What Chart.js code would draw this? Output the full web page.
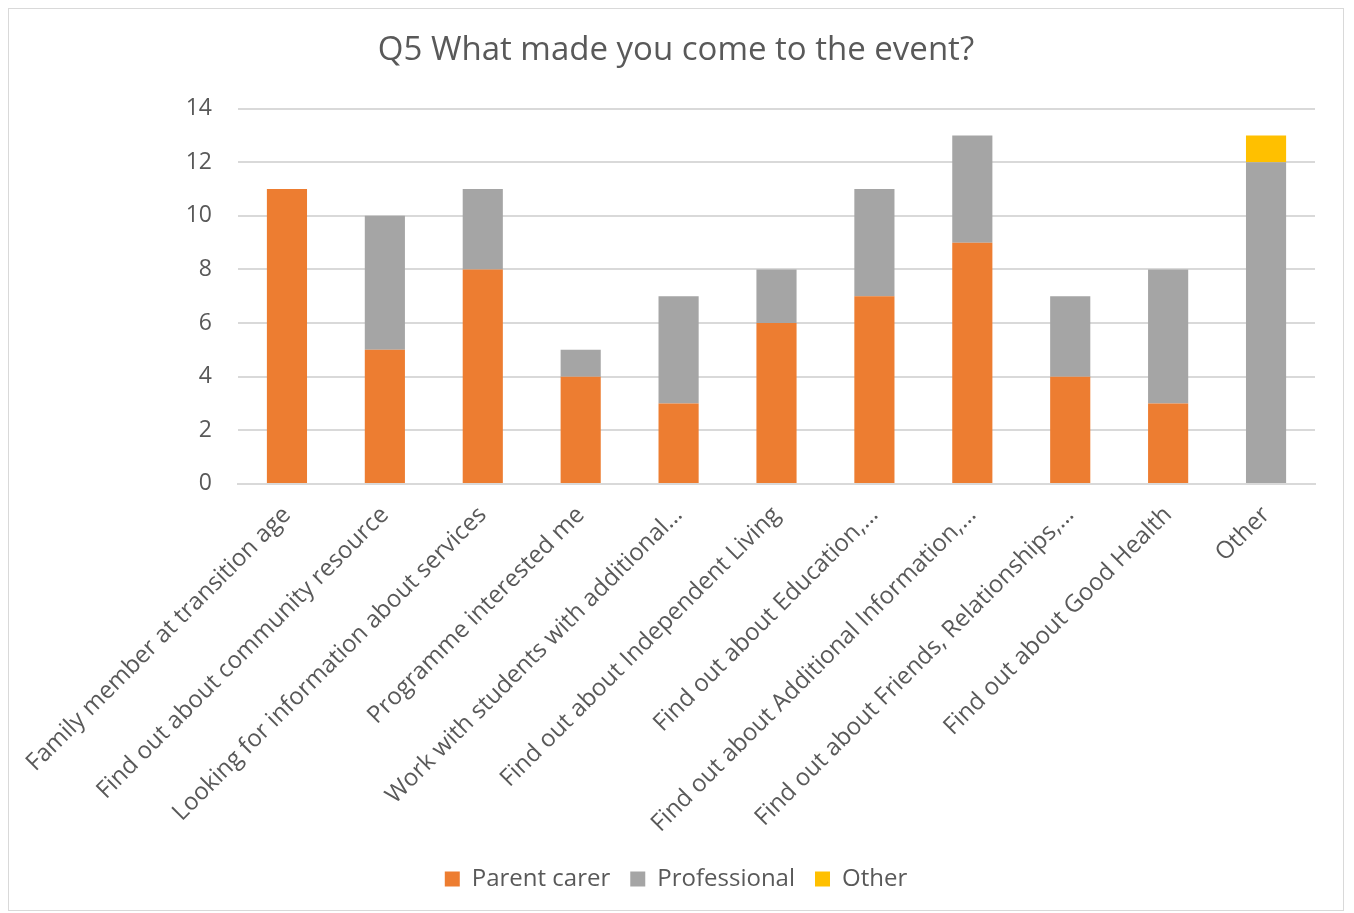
<!DOCTYPE html>
<html>
<head>
<meta charset="utf-8">
<script src="https://cdn.jsdelivr.net/npm/chart.js@4.4.1/dist/chart.umd.min.js"></script>
<style>
  html, body { margin: 0; padding: 0; background: #fff; }
  #wrap {
    position: absolute; left: 8px; top: 8px;
    width: 1336px; height: 903px;
    border: 1px solid #d9d9d9; box-sizing: border-box;
  }
</style>
</head>
<body>
<div id="wrap"><canvas id="chart"></canvas></div>
<script>
Chart.defaults.animation = false;

// --- Data ---
const categories = [
  'Family member at transition age',
  'Find out about community resource',
  'Looking for information about services',
  'Programme interested me',
  'Work with students with additional…',
  'Find out about Independent Living',
  'Find out about Education,…',
  'Find out about Additional Information,…',
  'Find out about Friends, Relationships,…',
  'Find out about Good Health',
  'Other'
];
const parentCarer = [11, 5, 8, 4, 3, 6, 7, 9, 4, 3, 0];
const professional = [0, 5, 3, 1, 4, 2, 4, 4, 3, 5, 12];
const other = [0, 0, 0, 0, 0, 0, 0, 0, 0, 0, 1];
const yTicks = [0, 2, 4, 6, 8, 10, 12, 14];

const fontFamily = '"Open Sans", "Noto Sans", sans-serif';
const textColor = '#595959';

const ctx = document.getElementById('chart').getContext('2d');
new Chart(ctx, {
  type: 'bar',
  data: {
    labels: categories,
    datasets: [
      { label: 'Parent carer', data: parentCarer, backgroundColor: '#ed7d31' },
      { label: 'Professional', data: professional, backgroundColor: '#a5a5a5' },
      { label: 'Other', data: other, backgroundColor: '#ffc000' }
    ]
  },
  options: {
    responsive: true,
    maintainAspectRatio: false,
    barPercentage: 0.41,
    categoryPercentage: 1,
    layout: { padding: { left: 28, right: 28, top: 10, bottom: 9 } },
    scales: {
      x: {
        stacked: true,
        grid: { display: false },
        border: { display: true, color: '#d9d9d9', width: 2 },
        ticks: {
          color: textColor,
          font: { family: fontFamily, size: 24 },
          maxRotation: 45,
          minRotation: 45,
          autoSkip: false,
          padding: 9
        }
      },
      y: {
        stacked: true,
        min: 0,
        max: 14,
        afterBuildTicks: axis => { axis.ticks = yTicks.map(v => ({ value: v })); },
        afterFit: axis => { axis.width = 201; },
        grid: { color: '#d9d9d9', lineWidth: 2, drawTicks: false },
        border: { display: false },
        ticks: {
          color: textColor,
          font: { family: fontFamily, size: 23 },
          padding: 26
        }
      }
    },
    plugins: {
      title: {
        display: true,
        text: 'Q5 What made you come to the event?',
        color: textColor,
        font: { family: fontFamily, size: 33, weight: 'normal' },
        padding: { top: 12, bottom: 38 }
      },
      legend: {
        position: 'bottom',
        labels: {
          color: textColor,
          font: { family: fontFamily, size: 24 },
          boxWidth: 15,
          boxHeight: 15,
          padding: 20
        }
      },
      tooltip: { enabled: false }
    }
  }
});
</script>
</body>
</html>
